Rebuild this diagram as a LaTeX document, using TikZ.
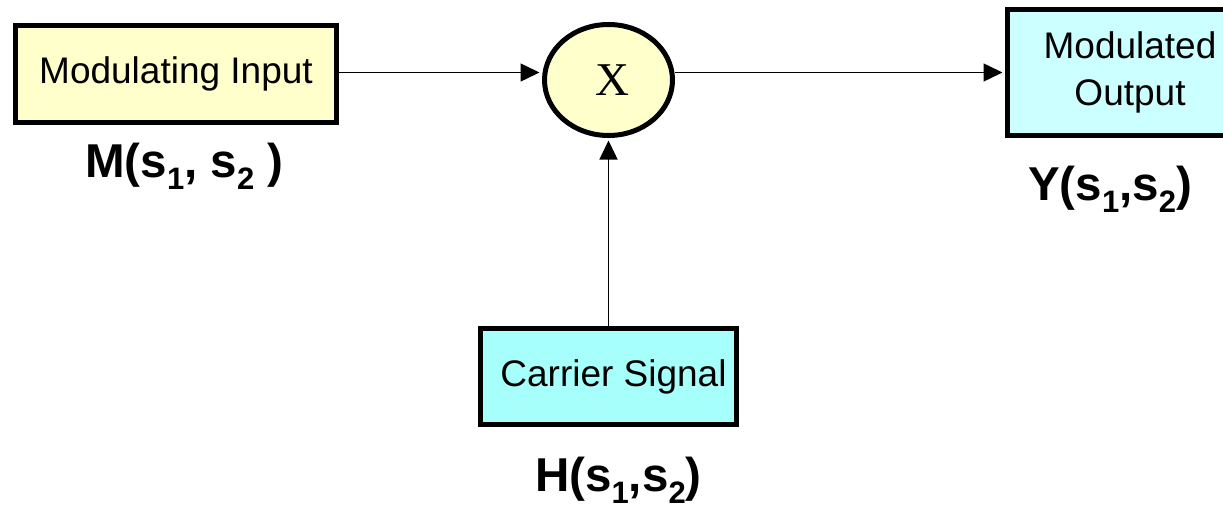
\documentclass[tikz,border=0pt]{standalone}
\usepackage{fontspec}
\setmainfont{Liberation Sans}
\newfontfamily\serifx{Liberation Serif}
\usetikzlibrary{arrows.meta,shapes.geometric}
\definecolor{boxyellow}{HTML}{FFFFCC}
\definecolor{boxcyan}{HTML}{CCFFFF}
\definecolor{carriercyan}{HTML}{A6FFFA}
\newcommand{\lowsub}[1]{\raisebox{-0.26em}{\fontsize{31}{31}\selectfont #1}}
\begin{document}
\begin{tikzpicture}[x=1pt,y=-1pt,
  blk/.style={draw=black, line width=5pt, rectangle, inner sep=0pt, font=\fontsize{37}{47}\selectfont, align=center},
  mult/.style={draw=black, line width=5pt, ellipse, inner sep=0pt, fill=boxyellow, font=\serifx\fontsize{47}{47}\selectfont},
  sig/.style={line width=1.5pt, -{Triangle[length=19pt,width=18pt]}, shorten >=2.5pt},
  lbl/.style={font=\bfseries\fontsize{47.5}{47.5}\selectfont, inner sep=0pt, anchor=base west}]
\useasboundingbox (0,0) rectangle (1223,511);
\node[blk, fill=boxyellow, minimum width=321pt, minimum height=96pt] (mi) at (176,74) {Modulating Input};
\node[mult, minimum width=128pt, minimum height=111pt] (x) at (608.5,80) {\hspace*{8pt}X};
\node[blk, fill=boxcyan, minimum width=245pt, minimum height=126pt] (mo) at (1130,72.5) {Modulated\\Output};
\node[blk, fill=carriercyan, minimum width=256pt, minimum height=96pt] (cs) at (608.5,376.5) {\hspace*{10pt}Carrier Signal};
\node[lbl] (ml) at (85,177) {M(s\lowsub{1}, s\lowsub{2} )};
\node[lbl] (yl) at (1028,200) {Y(s\lowsub{1},s\lowsub{2})};
\node[lbl] (hl) at (535,491) {H(s\lowsub{1},s\lowsub{2})};
\draw[sig] (mi.east |- mo.west) -- (mo.west -| x.west);
\draw[sig] (x.east |- mo.west) -- (mo.west);
\draw[sig] (cs.north) -- (x.south);
\end{tikzpicture}
\end{document}
